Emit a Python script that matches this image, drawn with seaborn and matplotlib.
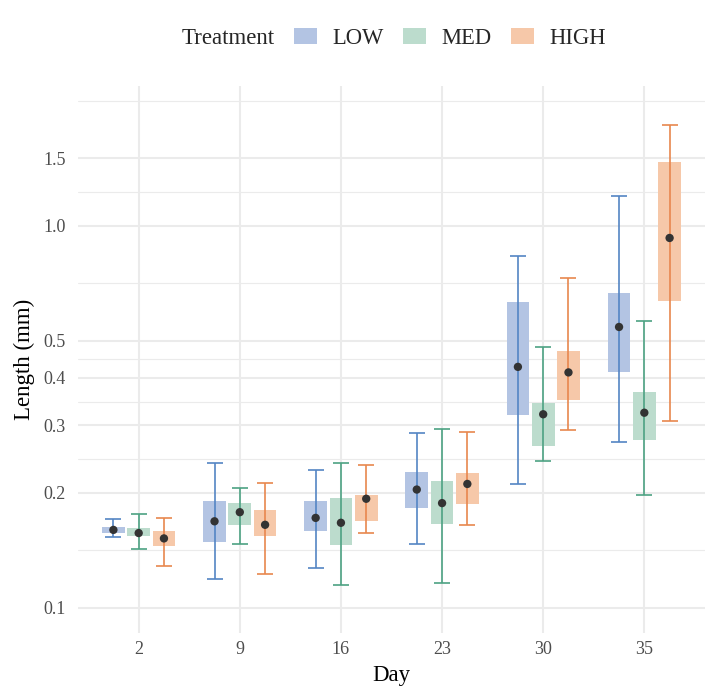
import matplotlib
matplotlib.use("Agg")
import matplotlib.pyplot as plt
from matplotlib.patches import Patch
import seaborn as sns
import numpy as np
import pandas as pd

# values
days = ["2", "9", "16", "23", "30", "35"]
treatments = ["LOW", "MED", "HIGH"]

mean_low = [0.160, 0.1685, 0.172, 0.204, 0.427, 0.543]
mean_med = [0.157, 0.178, 0.167, 0.188, 0.321, 0.324]
mean_high = [0.152, 0.165, 0.193, 0.211, 0.413, 0.928]

box_lo_low = [0.157, 0.1485, 0.159, 0.183, 0.320, 0.414]
box_hi_low = [0.163, 0.190, 0.190, 0.227, 0.631, 0.665]
box_lo_med = [0.154, 0.165, 0.146, 0.166, 0.265, 0.275]
box_hi_med = [0.162, 0.1885, 0.1935, 0.215, 0.344, 0.367]
box_lo_high = [0.145, 0.154, 0.169, 0.1865, 0.3495, 0.634]
box_hi_high = [0.159, 0.180, 0.198, 0.225, 0.470, 1.467]

err_lo_low = [0.153, 0.119, 0.1275, 0.147, 0.211, 0.272]
err_hi_low = [0.1705, 0.239, 0.229, 0.287, 0.830, 1.198]
err_lo_med = [0.143, 0.147, 0.115, 0.116, 0.2425, 0.197]
err_hi_med = [0.176, 0.2055, 0.239, 0.294, 0.480, 0.562]
err_lo_high = [0.129, 0.123, 0.157, 0.165, 0.292, 0.308]
err_hi_high = [0.1715, 0.212, 0.236, 0.289, 0.731, 1.831]

y_breaks = [0.1, 0.2, 0.3, 0.4, 0.5, 1.0, 1.5]
y_minor = [0.1414, 0.2449, 0.3464, 0.4472, 0.7071, 1.2247, 2.1213]

line_colors = {"LOW": "#5485C4", "MED": "#4DA283", "HIGH": "#E8874E"}
fill_colors = {"LOW": "#B3C4E3", "MED": "#BCDCCD", "HIGH": "#F6C8A9"}

rows = []
means = {"LOW": mean_low, "MED": mean_med, "HIGH": mean_high}
blo = {"LOW": box_lo_low, "MED": box_lo_med, "HIGH": box_lo_high}
bhi = {"LOW": box_hi_low, "MED": box_hi_med, "HIGH": box_hi_high}
elo = {"LOW": err_lo_low, "MED": err_lo_med, "HIGH": err_lo_high}
ehi = {"LOW": err_hi_low, "MED": err_hi_med, "HIGH": err_hi_high}
for j, t in enumerate(treatments):
    for i, d in enumerate(days):
        rows.append({"Day": d, "Treatment": t, "pos": i + (j - 1) * 0.25,
                     "mean": means[t][i], "blo": blo[t][i], "bhi": bhi[t][i],
                     "elo": elo[t][i], "ehi": ehi[t][i]})
df = pd.DataFrame(rows)

sns.set_style("white")
plt.rcParams["font.family"] = ["Liberation Serif", "DejaVu Serif"]

fig = plt.figure(figsize=(7.14, 6.99), dpi=100)
ax = fig.add_axes([78 / 714, 1 - 633 / 699, 627 / 714, 547 / 699])
ax.set_yscale("log")

for t in treatments:
    sub = df[df["Treatment"] == t]
    ax.bar(sub["pos"], sub["bhi"] - sub["blo"], bottom=sub["blo"], width=0.225,
           color=fill_colors[t], linewidth=0, zorder=2)
    ax.errorbar(sub["pos"], sub["mean"],
                yerr=[sub["mean"] - sub["elo"], sub["ehi"] - sub["mean"]],
                fmt="none", ecolor=line_colors[t], elinewidth=1.2,
                capsize=5.8, capthick=1.2, zorder=3)

sns.scatterplot(data=df, x="pos", y="mean", color="#333333", s=36,
                edgecolor="none", zorder=4, ax=ax, legend=False)

ax.set_xlim(-0.6, 5.6)
ax.set_ylim(0.0860, 2.317)
ax.set_xticks(range(len(days)))
ax.set_xticklabels(days)
ax.set_yticks(y_breaks)
ax.set_yticklabels([f"{v:.1f}" for v in y_breaks])
ax.set_yticks(y_minor, minor=True)
ax.yaxis.set_minor_formatter(matplotlib.ticker.NullFormatter())
ax.tick_params(axis="both", which="both", length=0, labelsize=13,
               labelcolor="#4D4D4D")
ax.tick_params(axis="x", pad=6)
ax.tick_params(axis="y", pad=9)

ax.grid(True, which="major", color="#EBEBEB", linewidth=1.5, zorder=0)
ax.grid(True, which="minor", axis="y", color="#EBEBEB", linewidth=0.8, zorder=0)
ax.set_axisbelow(True)
for s in ax.spines.values():
    s.set_visible(False)

ax.set_xlabel("Day", fontsize=16.5, color="black")
ax.set_ylabel("Length (mm)", fontsize=16.5, color="black")
ax.xaxis.set_label_coords(0.5, -0.058)
ax.yaxis.set_label_coords(-0.069, 0.5)

fig.text(182 / 714, 1 - 38 / 699, "Treatment", fontsize=16.5, va="center", ha="left")
handles = [Patch(facecolor=fill_colors[t], edgecolor="none", label=t) for t in treatments]
fig.legend(handles=handles, loc="center left", bbox_to_anchor=(294 / 714, 1 - 38 / 699),
           ncol=3, frameon=False, fontsize=16.3, handlelength=1.0, handleheight=0.7,
           handletextpad=0.68, columnspacing=0.88, borderpad=0, borderaxespad=0)

fig.savefig("out.png", dpi=100)
